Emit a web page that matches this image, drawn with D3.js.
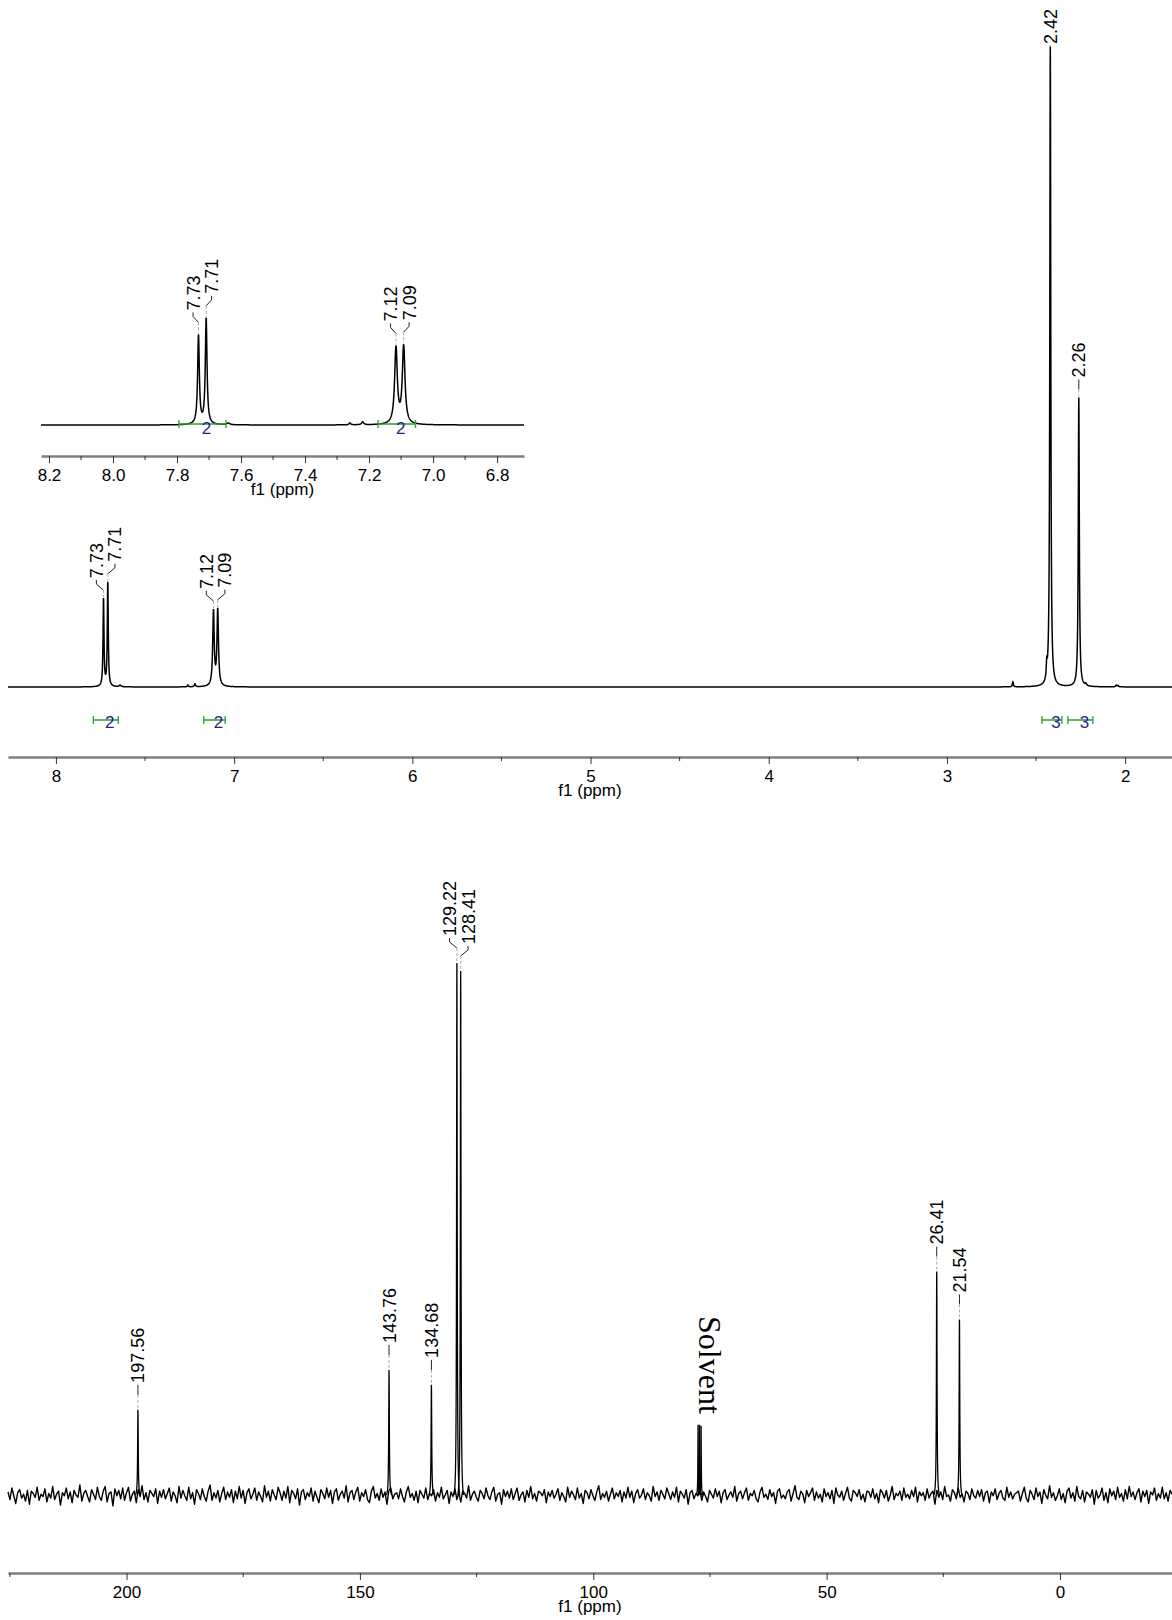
<!DOCTYPE html>
<html>
<head>
<meta charset="utf-8">
<script src="https://cdn.jsdelivr.net/npm/d3@7"></script>
<style>
  body { margin: 0; background: #fff; }
</style>
</head>
<body>
<div id="chart"></div>
<script>
const W = 1172, H = 1620;
const FONT = '"Liberation Sans", Arial, Helvetica, sans-serif';
const SERIF = '"Liberation Serif", "DejaVu Serif", serif';

// ---------- 1H spectrum data ----------
// peak position (ppm), height (2.42 peak = 100), half width (ppm)
const hPpm    = [7.733, 7.709, 7.640, 7.260, 7.220, 7.116, 7.092, 2.630, 2.440, 2.420, 2.260, 2.220, 2.050, 2.040];
const hHeight = [13.6, 16.2, 0.25, 0.3, 0.45, 11.7, 11.9, 0.8, 2.2, 100, 45.2, 0.3, 0.25, 0.2];
const hWidth  = [0.0032, 0.0032, 0.006, 0.003, 0.004, 0.005, 0.005, 0.003, 0.003, 0.0032, 0.0034, 0.004, 0.004, 0.004];
const hLabelPpm = [7.733, 7.709, 7.116, 7.092, 2.420, 2.260];
const hDomain = [8.269, 1.737];
const hMajor = [8, 7, 6, 5, 4, 3, 2];
const hMinor = [7.5, 6.5, 5.5, 4.5, 3.5, 2.5];

// integrals
const hIntFrom = [7.79, 7.17, 2.467, 2.321];
const hIntTo   = [7.65, 7.05, 2.355, 2.181];
const hIntVal  = ["2", "2", "3", "3"];

// inset (aromatic zoom)
const iDomain = [8.225, 6.716];
const iMajor = [8.2, 8.0, 7.8, 7.6, 7.4, 7.2, 7.0, 6.8];
const iMinor = [8.1, 7.9, 7.7, 7.5, 7.3, 7.1, 6.9];
const iLabelPpm = [7.733, 7.709, 7.116, 7.092];
const iIntFrom = [7.794, 7.172];
const iIntTo   = [7.647, 7.055];
const iIntVal  = ["2", "2"];

// ---------- 13C spectrum data ----------
const cPpm    = [197.56, 143.76, 134.68, 129.22, 128.41, 77.54, 77.22, 76.90, 26.41, 21.54];
const cHeight = [16.0, 23.5, 20.7, 100, 98.5, 13.2, 13.2, 13.0, 42.0, 33.0];
const cWidth  = [0.08, 0.08, 0.08, 0.08, 0.08, 0.05, 0.05, 0.05, 0.08, 0.08];
const cLabelPpm = [197.56, 143.76, 134.68, 129.22, 128.41, 26.41, 21.54];
const cSolventPpm = 77.22;
const cDomain = [225.4, -24.0];
const cMajor = [200, 150, 100, 50, 0];
const cMinor = [225, 175, 125, 75, 25];
// baseline noise (intensity units x 0.7), equally spaced over cDomain
const cNoiseGain = 1.45;
const cNoise = [
  0.4,-0.6,0.9,-0.1,-1.1,0.3,0.7,-0.4,0.1,-0.8,0.6,-1.2,0.5,0.2,-0.3,1.0,-0.7,0.1,-0.2,0.8,
  -0.9,0.2,-0.4,1.1,-0.6,0.1,0.5,-1.3,0.3,-0.1,0.9,-0.5,0.4,-1.0,0.6,0.0,-0.3,1.3,-0.8,0.2,
  0.6,-0.2,-0.9,0.7,0.1,-0.6,1.0,-0.2,-0.7,0.5,1.1,-0.9,0.2,0.4,-1.4,0.8,-0.1,0.6,-0.5,0.9,
  -0.7,0.3,1.0,-0.8,0.1,0.5,-1.0,0.7,-0.2,1.2,-0.6,0.3,-0.9,0.6,0.2,-0.2,0.8,-1.1,0.5,-0.3,
  0.7,-0.5,0.2,0.9,-0.8,0.4,-0.1,-1.0,1.1,-0.4,0.6,-0.1,-0.7,1.0,-0.5,0.3,-1.2,0.7,0.2,-0.6,
  0.8,-0.2,-0.8,0.5,1.3,-0.7,0.3,-0.4,0.6,-0.9,0.2,1.0,-0.6,0.4,-0.3,0.7,-1.0,0.5,-0.5,1.1,
  -0.4,0.6,-1.1,0.3,0.8,-0.5,0.1,0.9,-0.7,0.4,-0.2,-0.9,1.2,-0.3,0.5,-0.8,0.7,0.0,-0.6,1.0,
  0.3,-0.7,0.5,-0.4,1.1,-1.0,0.6,0.2,-0.5,0.8,-1.3,0.4,0.7,-0.6,0.3,-0.2,0.9,-0.8,0.5,-0.3,
  -1.0,0.7,0.2,-0.5,0.9,-0.3,0.6,-1.1,0.4,0.8,-0.7,0.1,0.5,-0.4,1.2,-0.9,0.3,0.6,-0.6,0.4,
  1.0,-0.8,0.3,-0.2,0.7,-0.6,-1.0,0.5,1.1,-0.4,0.2,-0.7,0.8,-0.3,0.4,-1.2,0.6,0.9,-0.5,0.1,
  0.3,-0.5,0.8,-0.2,-0.9,0.4,1.1,-0.3,0.2,-0.7,0.5,-1.0,0.6,0.1,-0.4,0.9,-0.6,0.2,-0.1,0.7,
  -0.8,0.3,-0.3,1.0,-0.5,0.0,0.6,-1.1,0.4,-0.2,0.8,-0.6,0.3,-0.9,0.5,0.2,-0.4,1.2,-0.7,0.1,
  0.5,-0.3,-0.8,0.6,0.2,-0.5,0.9,-0.1,-0.6,0.4,1.0,-0.8,0.1,0.3,-1.2,0.7,-0.2,0.5,-0.4,0.8,
  -0.6,0.2,0.9,-0.7,0.0,0.4,-0.9,0.6,-0.3,1.1,-0.5,0.2,-0.8,0.5,0.3,-0.1,0.7,-1.0,0.4,-0.2,
  0.6,-0.4,0.1,0.8,-0.7,0.3,-0.2,-0.9,1.0,-0.3,0.5,0.0,-0.6,0.9,-0.4,0.2,-1.1,0.6,0.3,-0.5,
  0.7,-0.1,-0.7,0.4,1.2,-0.6,0.2,-0.3,0.5,-0.8,0.1,0.9,-0.5,0.3,-0.2,0.6,-0.9,0.4,-0.4,1.0,
  -0.3,0.5,-1.0,0.2,0.7,-0.4,0.0,0.8,-0.6,0.3,-0.1,-0.8,1.1,-0.2,0.4,-0.7,0.6,0.1,-0.5,0.9,
  0.2,-0.6,0.4,-0.3,1.0,-0.9,0.5,0.1,-0.4,0.7,-1.2,0.3,0.6,-0.5,0.2,-0.1,0.8,-0.7,0.4,-0.2,
  -0.9,0.6,0.1,-0.4,0.8,-0.2,0.5,-1.0,0.3,0.7,-0.6,0.0,0.4,-0.3,1.1,-0.8,0.2,0.5,-0.5,0.3,
  0.9,-0.7,0.2,-0.1,0.6,-0.5,-0.9,0.4,1.0,-0.3,0.1,-0.6,0.7,-0.2,0.3,-1.1,0.5,0.8,-0.4,0.0,
  -0.5,0.4,0.7,-0.8,0.2,1.2,-0.3,-0.6,0.5,0.1,-1.0,0.6,-0.2,0.3,0.9,-0.7,0.4,-0.4,0.1,-0.9,
  0.8,-0.2,0.3,-0.5,0.6,-1.1,0.9,0.0,-0.3,0.5,-0.7,0.2,1.0,-0.4,-0.8,0.6,0.3,-0.2,0.7,-0.6,
  0.1,-0.9,0.5,0.4,-0.3,0.8,-0.5,0.2,-1.0,0.7,0.3,-0.4,0.6,-0.8,0.0,1.1,-0.6,0.2,-0.1,0.5,
  -0.7,0.9,-0.3,0.1,-0.5,0.6,-0.2,1.0,-0.9,0.4,-0.1,0.3,-0.7,0.8,-0.4,0.2,0.5,-1.2,0.6,-0.3,
  0.4,-0.6,1.1,-0.2,0.0,-0.8,0.7,0.3,-0.5,0.9,-0.3,0.1,-0.9,0.5,0.2,-0.6,0.8,-0.1,-0.4,0.6,
  -0.2,0.7,-0.8,0.3,0.5,-1.0,0.4,-0.1,0.8,-0.6,0.2,0.6,-0.4,-0.7,1.0,-0.3,0.4,-0.5,0.1,0.3,
  0.5,-0.8,0.2,1.0,-0.4,-0.9,0.6,0.1,-0.6,0.9,-0.2,0.4,-1.1,0.7,0.0,-0.5,1.2,-0.3,0.3,-0.7,
  -0.1,0.8,-0.6,0.2,-1.0,0.5,0.9,-0.4,0.3,-0.8,1.1,-0.2,-0.5,0.6,-0.9,0.4,0.1,-0.3,0.7,-1.2,
  0.6,-0.4,0.0,0.9,-0.7,0.3,-1.0,0.8,-0.1,0.5,-0.6,1.0,-0.3,0.2,-0.8,0.7,-0.5,1.1,-0.2,0.4,
  -0.6,0.3,0.8,-0.9,0.5,-0.2,0.6,-1.1,0.4,0.0,0.9,-0.7,0.2,-0.4,1.0,-0.5,0.3,-0.8,0.6,0.1
];

const svg = d3.select("#chart").append("svg")
  .attr("width", W).attr("height", H)
  .style("background", "#fff");

// sum of lorentzian lines
function lorentz(ppms, heights, widths) {
  return v => {
    let s = 0;
    for (let i = 0; i < ppms.length; i++) {
      const d = (v - ppms[i]) / widths[i];
      s += heights[i] / (1 + d * d);
    }
    return s;
  };
}

// sampling positions, denser around each line
function grid(lo, hi, ppms, widths, step) {
  const pts = d3.range(lo, hi, step).concat([hi]);
  ppms.forEach((p, i) => {
    const w = widths[i];
    for (let d = -40 * w; d <= 40 * w; d += w / 5) pts.push(p + d);
  });
  return pts.filter(v => v >= lo && v <= hi).sort((a, b) => a - b);
}

function drawAxis(x, y, major, minor, fmt) {
  const ax = svg.append("g").attr("transform", `translate(0,${y})`);
  ax.call(d3.axisBottom(x).tickValues(major).tickFormat(fmt)
    .tickSize(7).tickPadding(6).tickSizeOuter(0));
  ax.attr("font-family", FONT).attr("font-size", 17);
  ax.select(".domain").attr("stroke", "#808080").attr("stroke-width", 2.5);
  ax.selectAll(".tick line").attr("stroke", "#333");
  ax.selectAll(".tick text").attr("fill", "#000");
  ax.selectAll(".minor").data(minor).join("line")
    .attr("class", "minor")
    .attr("x1", d => x(d)).attr("x2", d => x(d))
    .attr("y1", 0).attr("y2", 4)
    .attr("stroke", "#333");
  const r = x.range();
  ax.append("text")
    .attr("x", (r[0] + r[1]) / 2).attr("y", 39)
    .attr("text-anchor", "middle").attr("fill", "#000")
    .text("f1 (ppm)");
}

function drawLabels(x, labelPpm, topOf, gap) {
  const items = labelPpm.map(p => ({ p, px: x(p), top: topOf(p) }))
    .sort((a, b) => a.px - b.px);
  const clusters = [];
  items.forEach(it => {
    const c = clusters[clusters.length - 1];
    if (c && it.px - c[c.length - 1].px < 18) c.push(it);
    else clusters.push([it]);
  });
  clusters.forEach(c => {
    const m = d3.mean(c, d => d.px);
    c.forEach((it, i) => { it.lx = m + (i - (c.length - 1) / 2) * 18.5; });
  });
  const g = svg.append("g").attr("font-family", FONT);
  items.forEach(it => {
    const tb = Math.max(it.top - gap, 44);
    g.append("text")
      .attr("transform", `translate(${it.lx},${tb}) rotate(-90)`)
      .attr("dy", "0.36em")
      .attr("font-size", 18)
      .attr("fill", "#000")
      .text(it.p.toFixed(2));
    const k1 = Math.min(tb + 6, it.top - 1), k2 = Math.min(tb + 12, it.top - 1);
    g.append("path")
      .attr("d", `M${it.lx},${tb + 2}V${k1}L${it.px},${k2}`)
      .attr("fill", "none").attr("stroke", "#222").attr("stroke-width", 1);
    if (it.top - 1 > k2) {
      g.append("line")
        .attr("x1", it.px).attr("x2", it.px)
        .attr("y1", k2).attr("y2", it.top - 1)
        .attr("stroke", "#aaa").attr("stroke-width", 1)
        .attr("stroke-dasharray", "3,2");
    }
  });
}

function drawIntegrals(x, y0, from, to, vals, dy) {
  const g = svg.append("g").attr("font-family", FONT);
  from.forEach((f, i) => {
    const a = x(f), b = x(to[i]);
    g.append("path")
      .attr("d", `M${a},${y0 - 4}V${y0 + 4}M${a},${y0}H${b}M${b},${y0 - 4}V${y0 + 4}`)
      .attr("fill", "none").attr("stroke", "#2e9e2e").attr("stroke-width", 1.3);
    g.append("text")
      .attr("x", (a + b) / 2 + 4).attr("y", y0 + dy)
      .attr("text-anchor", "middle")
      .attr("font-size", 17).attr("fill", "#1f1f8f")
      .text(vals[i]);
  });
}

// ---------- 1H main ----------
const hSpec = lorentz(hPpm, hHeight, hWidth);
const xH = d3.scaleLinear().domain(hDomain).range([8, W]);
const yH = d3.scaleLinear().domain([0, 100]).range([687, 47]);
svg.append("path")
  .attr("d", d3.line().x(d => xH(d)).y(d => yH(hSpec(d)))(grid(hDomain[1], hDomain[0], hPpm, hWidth, 0.002)))
  .attr("fill", "none").attr("stroke", "#000").attr("stroke-width", 1.5);
drawLabels(xH, hLabelPpm, p => yH(hSpec(p)), 20);
drawIntegrals(xH, 720, hIntFrom, hIntTo, hIntVal, 8);
drawAxis(xH, 757, hMajor, hMinor, d3.format("d"));

// ---------- 1H inset ----------
const xI = d3.scaleLinear().domain(iDomain).range([41, 524]);
const yI = d3.scaleLinear().domain([0, 100]).range([425, 425 - 652]);
svg.append("path")
  .attr("d", d3.line().x(d => xI(d)).y(d => yI(hSpec(d)))(grid(iDomain[1], iDomain[0], hPpm, hWidth, 0.001)))
  .attr("fill", "none").attr("stroke", "#000").attr("stroke-width", 1.5);
drawLabels(xI, iLabelPpm, p => yI(hSpec(p)), 24);
drawIntegrals(xI, 424, iIntFrom, iIntTo, iIntVal, 10);
drawAxis(xI, 456, iMajor, iMinor, d3.format(".1f"));

// ---------- 13C ----------
const xC = d3.scaleLinear().domain(cDomain).range([8, W]);
const yC = d3.scaleLinear().domain([0, 100]).range([1495, 963]);
const nStep = (cDomain[0] - cDomain[1]) / (cNoise.length - 1);
svg.append("path")
  .attr("d", d3.line().x((d, i) => xC(cDomain[0] - i * nStep)).y(d => yC(d * cNoiseGain))(cNoise))
  .attr("fill", "none").attr("stroke", "#000").attr("stroke-width", 1.4)
  .attr("stroke-linejoin", "round");

// each carbon line, brought back to baseline at its ends
const cTop = [];
cPpm.forEach((p, i) => {
  const w = cWidth[i], h = cHeight[i], span = 0.6;
  const e = 1 / (1 + (span / w) * (span / w));
  const f = v => { const d = (v - p) / w; return h * (1 / (1 + d * d) - e) / (1 - e); };
  const pts = d3.range(p - span, p + span + 1e-9, w / 8);
  svg.append("path")
    .attr("d", d3.line().x(d => xC(d)).y(d => yC(f(d)))(pts))
    .attr("fill", "none").attr("stroke", "#000").attr("stroke-width", 1.3);
  cTop.push({ p, h });
});
drawLabels(xC, cLabelPpm, p => yC(cTop.find(t => t.p === p).h), 27);

const solventTop = yC(d3.max(cTop.filter(t => Math.abs(t.p - cSolventPpm) < 1), t => t.h));
svg.append("text")
  .attr("transform", `translate(${xC(cSolventPpm) - 1},${solventTop - 11}) rotate(90)`)
  .attr("text-anchor", "end")
  .style("font-family", SERIF)
  .attr("font-size", 32)
  .attr("fill", "#000")
  .text("Solvent");

drawAxis(xC, 1573, cMajor, cMinor, d3.format("d"));
</script>
</body>
</html>
